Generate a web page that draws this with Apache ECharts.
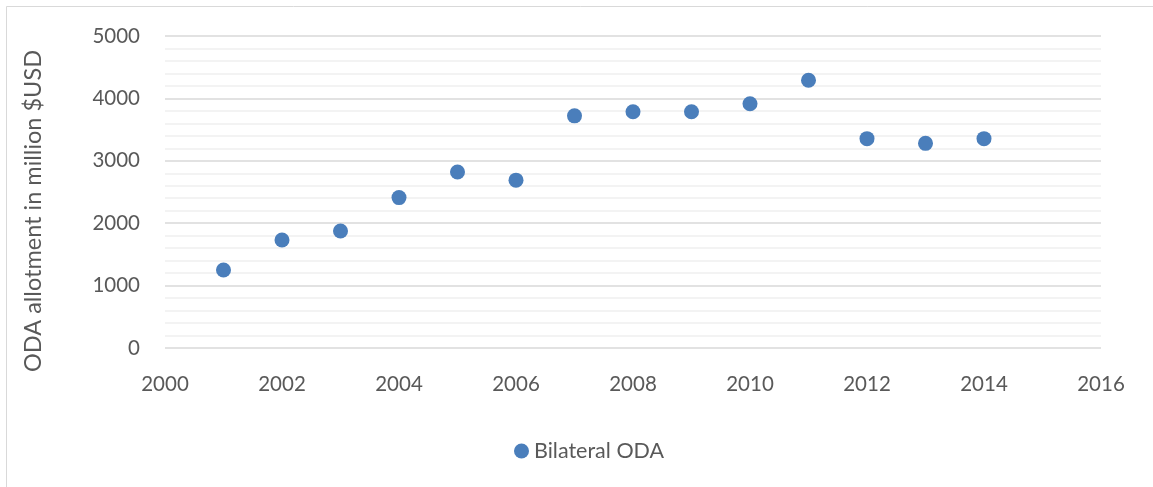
<!DOCTYPE html>
<html>
<head>
<meta charset="utf-8">
<script src="https://cdn.jsdelivr.net/npm/echarts@6/dist/echarts.min.js"></script>
<style>
html,body{margin:0;padding:0;background:#fff;}
#chart{width:1153px;height:487px;}
</style>
</head>
<body>
<div id="chart"></div>
<script>
const years = [2001, 2002, 2003, 2004, 2005, 2006, 2007, 2008, 2009, 2010, 2011, 2012, 2013, 2014];
const bilateralODA = [1250, 1730, 1875, 2410, 2820, 2690, 3720, 3785, 3785, 3915, 4290, 3355, 3280, 3355];
const seriesName = 'Bilateral ODA';
const yAxisTitle = 'ODA allotment in million $USD';

const FONT = 'Lato';
const TXT = '#595959';

const chart = echarts.init(document.getElementById('chart'));
chart.setOption({
  animation: false,
  backgroundColor: '#fff',
  textStyle: {fontFamily: FONT},
  grid: {left: 165, right: 52, top: 36, bottom: 139},
  graphic: [
    {type: 'rect', shape: {x: 6.5, y: 6.5, width: 1200, height: 600},
     style: {fill: 'none', stroke: '#d9d9d9', lineWidth: 1}, silent: true, z: -10},
    {type: 'text', x: 33, y: 211, rotation: Math.PI / 2,
     style: {text: yAxisTitle, fill: TXT, font: '23.5px ' + FONT, align: 'center', verticalAlign: 'middle'}}
  ],
  legend: {
    bottom: 20, left: 509,
    icon: 'circle', itemWidth: 15, itemHeight: 15, itemGap: 6,
    textStyle: {color: TXT, fontSize: 21.5, fontFamily: FONT},
    data: [seriesName]
  },
  xAxis: {
    type: 'value', min: 2000, max: 2016, interval: 2,
    axisLine: {show: false}, axisTick: {show: false}, splitLine: {show: false},
    axisLabel: {color: TXT, fontSize: 20.5, margin: 26, fontFamily: FONT, formatter: v => String(v)}
  },
  yAxis: {
    type: 'value', min: 0, max: 5000, interval: 1000,
    axisLine: {show: false}, axisTick: {show: false},
    axisLabel: {color: TXT, fontSize: 20.5, margin: 25, fontFamily: FONT, formatter: v => String(v)},
    splitLine: {show: true, lineStyle: {color: '#d9d9d9', width: 1.5}},
    minorTick: {show: false, splitNumber: 5},
    minorSplitLine: {show: true, lineStyle: {color: '#f0f0f0', width: 1.5}}
  },
  series: [{
    name: seriesName, type: 'scatter', symbol: 'circle', symbolSize: 15,
    itemStyle: {color: '#4a7ebb', opacity: 1},
    data: years.map((y, i) => [y, bilateralODA[i]])
  }]
});
</script>
</body>
</html>
